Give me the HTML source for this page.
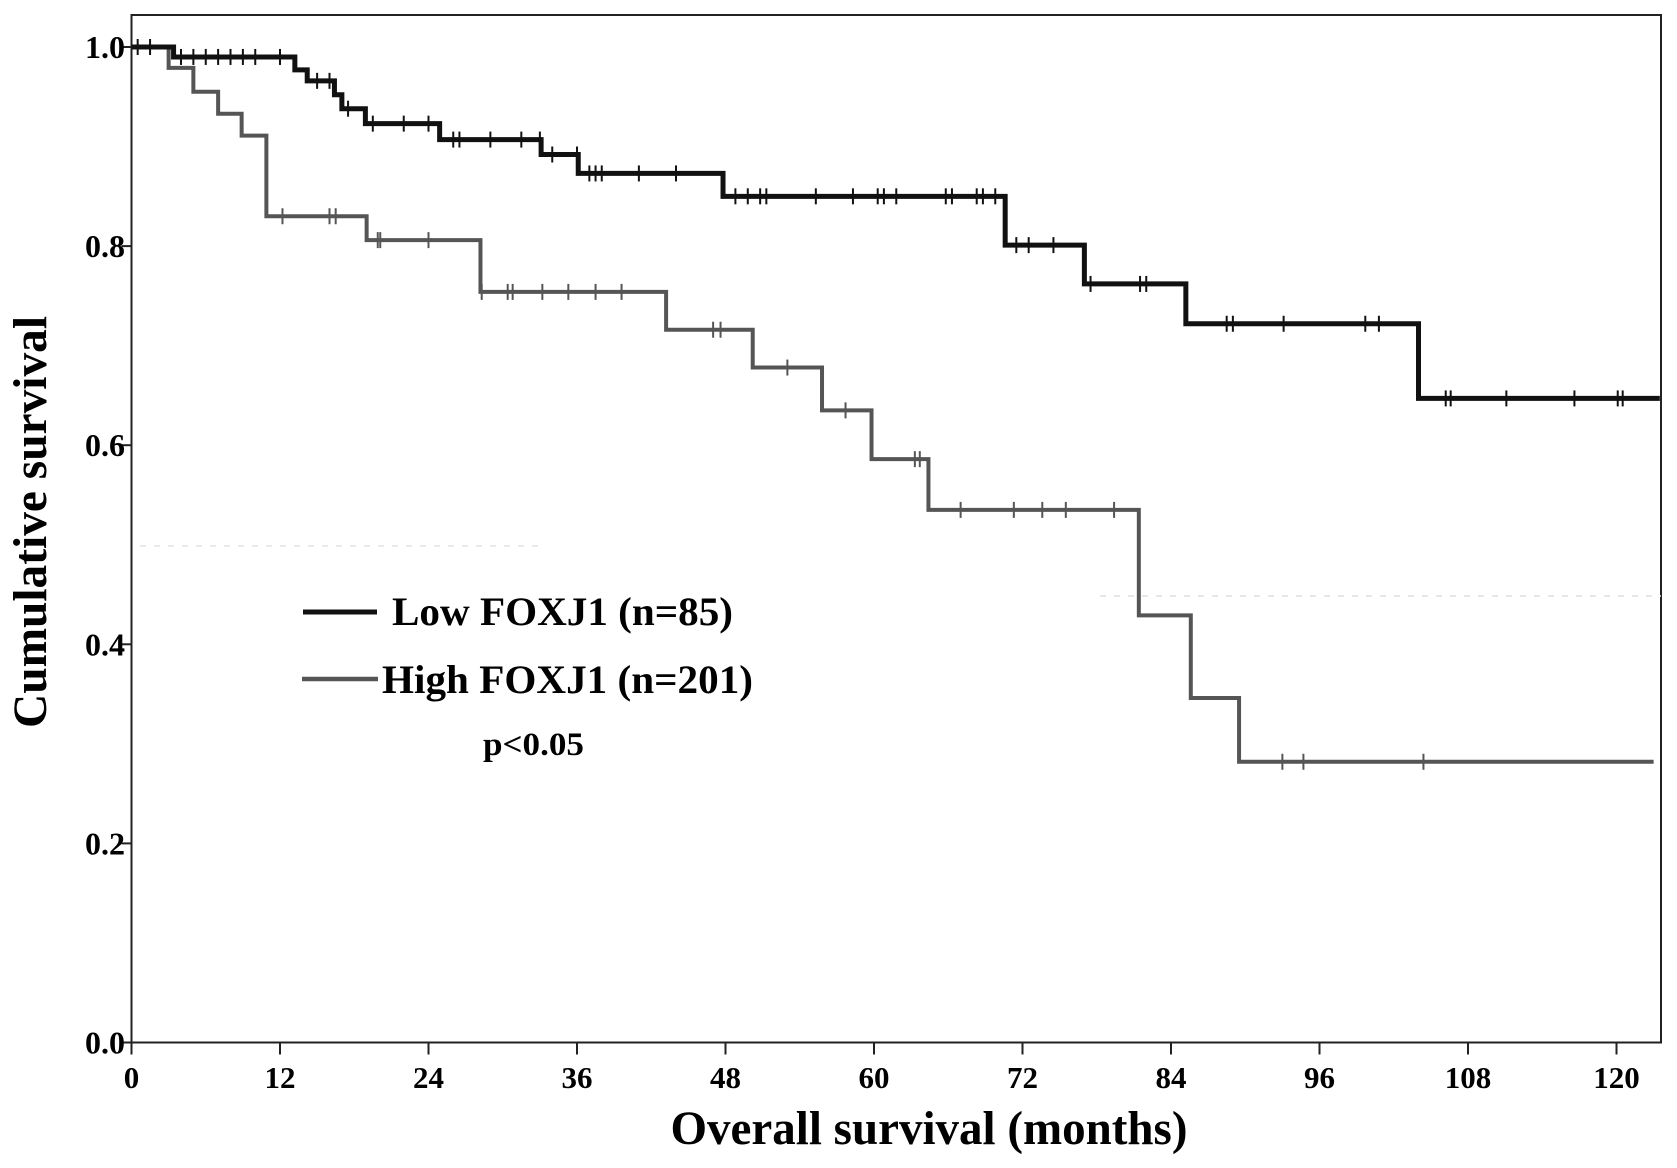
<!DOCTYPE html>
<html><head><meta charset="utf-8"><style>
html,body{margin:0;padding:0;background:#fff;}
svg{display:block;font-family:"Liberation Serif",serif;font-weight:bold;}
</style></head><body>
<svg id="chart" width="1677" height="1168" viewBox="0 0 1677 1168" xmlns="http://www.w3.org/2000/svg">
<rect x="131.5" y="15" width="1529.5" height="1027.5" fill="none" stroke="#222" stroke-width="2"/>
<line x1="1100" y1="596" x2="1661" y2="596" stroke="#ddd" stroke-width="1.5" stroke-dasharray="6,8"/>
<line x1="140" y1="546" x2="540" y2="546" stroke="#e4e4e4" stroke-width="1.5" stroke-dasharray="6,8"/>
<g id="axes"></g>
<g id="curves"></g>
<text x="46" y="522" font-size="48" text-anchor="middle" transform="rotate(-90 46 522)" textLength="412" lengthAdjust="spacingAndGlyphs">Cumulative survival</text>
<text x="929" y="1144" font-size="48" text-anchor="middle" textLength="517" lengthAdjust="spacingAndGlyphs">Overall survival (months)</text>
<g>
<line x1="303" y1="612" x2="377" y2="612" stroke="#111" stroke-width="5"/>
<text x="392" y="625" font-size="40" textLength="341" lengthAdjust="spacingAndGlyphs">Low FOXJ1 (n=85)</text>
<line x1="302" y1="679" x2="378" y2="679" stroke="#555" stroke-width="4.5"/>
<text x="382" y="693" font-size="40" textLength="371" lengthAdjust="spacingAndGlyphs">High FOXJ1 (n=201)</text>
<text x="483" y="755" font-size="33" textLength="101" lengthAdjust="spacingAndGlyphs">p&lt;0.05</text>
</g>
</svg>
<script>
const xTicks = [0,12,24,36,48,60,72,84,96,108,120];
const yTicks = [0.0,0.2,0.4,0.6,0.8,1.0];
const yTickLabels = ["0.0","0.2","0.4","0.6","0.8","1.0"];
const lowTimes = [0,3.4,13.2,14.2,16.4,17.0,18.9,24.9,33.1,36.1,47.8,70.6,77.0,85.2,104.0];
const lowSurv = [1.0,0.990,0.977,0.966,0.952,0.938,0.923,0.907,0.892,0.873,0.850,0.801,0.762,0.722,0.647];
const lowEnd = 123.5;
const lowCensT = [0.5,1.5,4,5,6,7,8,9,10,12,15,16,17.5,19.5,22,24,26,26.5,29,31.5,33,34,36,37,37.5,38,41,44,48.8,49.8,50.8,51.3,55.3,58.3,60.3,60.8,61.8,65.8,66.3,68.3,68.8,69.8,71.5,72.5,74.5,77.5,81.5,82,88.5,89,93.1,99.7,100.8,106.2,106.6,111.1,116.6,120.1,120.5];
const highTimes = [0,3.0,5.0,7.0,8.9,10.9,19.0,28.2,43.2,50.2,55.8,59.8,64.4,81.4,85.6,89.5];
const highSurv = [1.0,0.979,0.955,0.933,0.911,0.830,0.806,0.754,0.716,0.678,0.635,0.586,0.535,0.429,0.346,0.282];
const highEnd = 123.0;
const highCensT = [12.2,16,16.5,19.9,20.1,24,28.3,30.4,30.8,33.2,35.3,37.5,39.6,47.0,47.6,53.0,57.7,63.3,63.7,67.0,71.3,73.6,75.5,79.4,93.0,94.7,104.4];

const NS="http://www.w3.org/2000/svg";
const X0=131.5, PXM=148.5/12, Y1=47, Y0=1042.5;
const xs = m => X0 + m*PXM;
const ys = v => Y0 - v*(Y0-Y1);
function mk(tag, attrs, parent){const e=document.createElementNS(NS,tag);for(const k in attrs)e.setAttribute(k,attrs[k]);parent.appendChild(e);return e;}
const axes=document.getElementById('axes');
xTicks.forEach((t)=>{
  const l=mk('line',{x1:xs(t),x2:xs(t),y1:Y0,y2:Y0+12,stroke:'#222','stroke-width':2},axes);
  
  
  const tx=mk('text',{x:xs(t),y:1088,'font-size':31,'text-anchor':'middle'},axes);
  tx.textContent=t;
  
  
});
yTicks.forEach((t,i)=>{
  const l=mk('line',{x1:X0-10,x2:X0,y1:ys(t),y2:ys(t),stroke:'#222','stroke-width':2},axes);
  
  
  const tx=mk('text',{x:125,y:ys(t)+11,'font-size':32,'text-anchor':'end'},axes);
  tx.textContent=yTickLabels[i];
  
  
});
function survAt(times,surv,t){let v=surv[0];for(let i=0;i<times.length;i++){if(times[i]<=t)v=surv[i];}return v;}
function drawCurve(times,surv,end,cens,color,w,name){
  const g=document.getElementById('curves');
  let d='M'+xs(times[0])+','+ys(surv[0]);
  for(let i=1;i<times.length;i++){d+=' H'+xs(times[i])+' V'+ys(surv[i]);}
  d+=' H'+xs(end);
  const p=mk('path',{d:d,fill:'none',stroke:color,'stroke-width':w},g);
  
  
  cens.forEach(c=>{
    const y=ys(survAt(times,surv,c));
    const m=mk('line',{x1:xs(c),x2:xs(c),y1:y-8,y2:y+8,stroke:color,'stroke-width':2},g);
    
    
  });
}
drawCurve(highTimes,highSurv,highEnd,highCensT,'#555',4,'high-foxj1');
drawCurve(lowTimes,lowSurv,lowEnd,lowCensT,'#111',5,'low-foxj1');
</script>
</body></html>
